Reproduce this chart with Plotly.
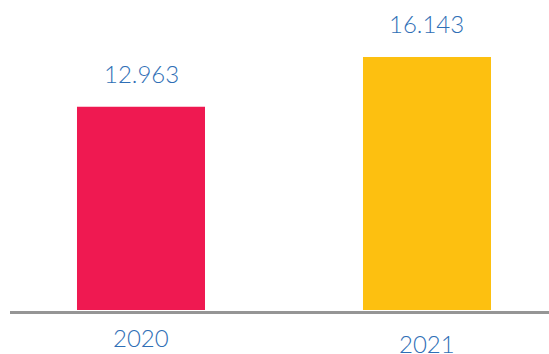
import plotly.graph_objects as go

# Data
years = ["2020", "2021"]
values = [12.963, 16.143]
value_labels = ["12.963", "16.143"]
bar_colors = ["#EF1951", "#FDC010"]

text_color = "#2F6FB6"
font_family = "Lato, 'Open Sans', sans-serif"

x_pos = list(range(len(years)))

fig = go.Figure()
fig.add_trace(go.Bar(
    x=x_pos,
    y=values,
    width=0.4476,
    marker=dict(color=bar_colors, line=dict(width=0)),
    hoverinfo="skip",
))

# Value labels above bars
for xi, v, lab in zip(x_pos, values, value_labels):
    fig.add_annotation(
        x=xi, y=v, xref="x", yref="y",
        text=lab, showarrow=False,
        yanchor="bottom", yshift=17,
        font=dict(family=font_family, size=24, color=text_color, weight=300),
    )

# Category labels under the baseline (second one sits slightly lower)
cat_offsets = [-27, -33]
for xi, lab, off in zip(x_pos, years, cat_offsets):
    fig.add_annotation(
        x=xi, y=0, xref="x", yref="y",
        text=lab, showarrow=False,
        yanchor="middle", yshift=off,
        font=dict(family=font_family, size=24, color=text_color, weight=300),
    )

# Baseline, just under the bars
plot_h = 354 - 44
fig.add_shape(
    type="line", xref="paper", yref="paper",
    x0=10 / 549, x1=1, y0=-2.5 / plot_h, y1=-2.5 / plot_h,
    line=dict(color="#959595", width=3),
    layer="above",
)

fig.update_layout(
    width=549, height=354,
    margin=dict(l=0, r=0, t=0, b=44),
    paper_bgcolor="white", plot_bgcolor="white",
    showlegend=False,
    xaxis=dict(range=[-0.493, 1.4266], visible=False, fixedrange=True),
    yaxis=dict(range=[0, 19.78], visible=False, fixedrange=True),
)

fig.write_html("out.html")
